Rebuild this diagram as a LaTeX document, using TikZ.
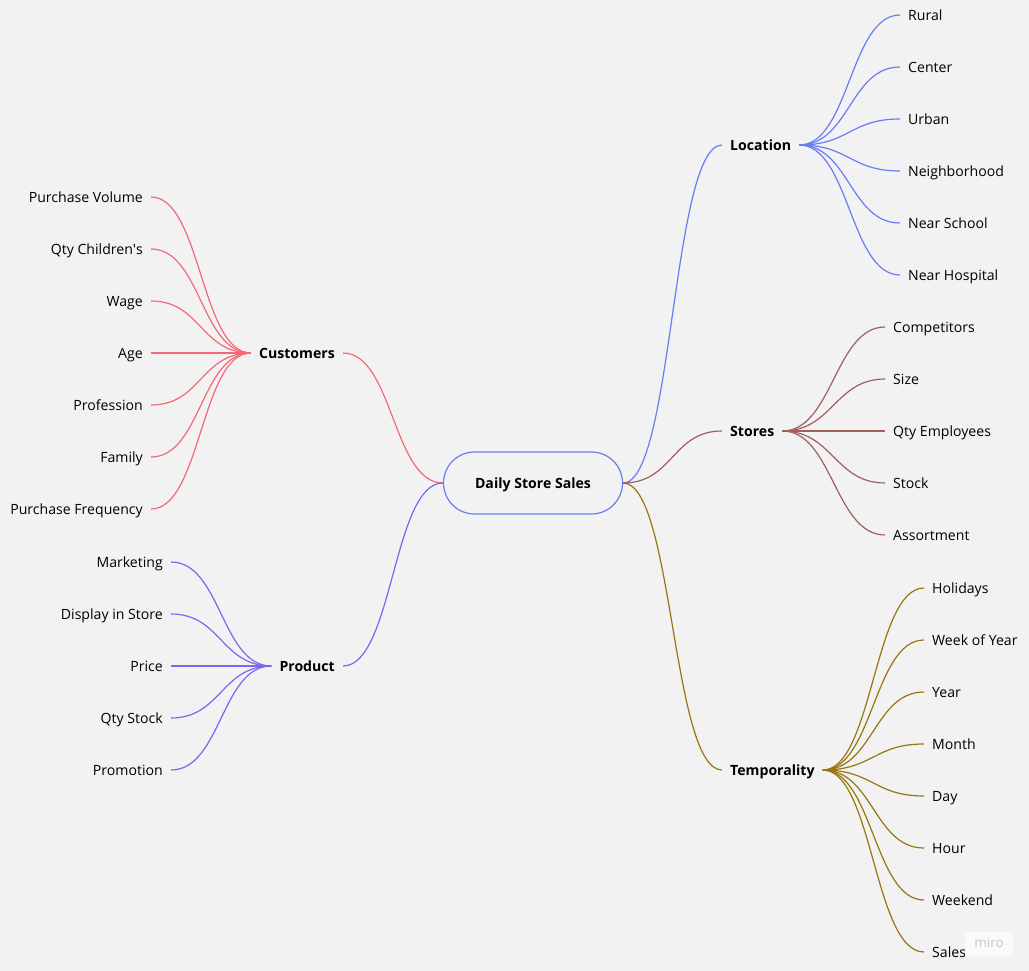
\documentclass[tikz,border=0pt]{standalone}
\usepackage{fontspec}
\setmainfont{Open Sans}
\definecolor{bgc}{RGB}{242,242,242}
\definecolor{locc}{RGB}{106,124,242}
\definecolor{storec}{RGB}{160,96,96}
\definecolor{tempc}{RGB}{152,118,14}
\definecolor{custc}{RGB}{245,104,118}
\definecolor{prodc}{RGB}{120,104,240}
\begin{document}
\begin{tikzpicture}[x=1pt,y=-1pt]
	\tikzstyle{every node}=[inner xsep=8pt, inner ysep=0pt, text height=12.5pt, text depth=1.5pt, font=\fontsize{14.1}{17}\selectfont]
	\tikzstyle{topic}=[font=\fontsize{14.1}{17}\selectfont\bfseries]
	\tikzstyle{rightleaf}=[anchor=west]
	\tikzstyle{leftleaf}=[anchor=east]
	\tikzstyle{branch}=[line width=1.2pt]
	\fill[bgc] (0,0) rectangle (1029,971);
	\useasboundingbox (0,0) rectangle (1029,971);
	% root
	\draw (533,483) node (root) [draw=locc, line width=1.2pt, rounded corners=31pt, minimum width=179pt, minimum height=62pt, topic] {Daily Store Sales};
	% first level
	\draw (722,145) node (loc) [anchor=west, topic] {Location};
	\draw (722,431) node (stores) [anchor=west, topic] {Stores};
	\draw (722,770) node (temp) [anchor=west, topic] {Temporality};
	\draw (343,353) node (cust) [anchor=east, topic] {Customers};
	\draw (343,666) node (prod) [anchor=east, topic] {Product};
	\draw[branch, locc] (root.east) .. controls +(50,0) and +(-50,0) .. (loc.west);
	\draw[branch, storec] (root.east) .. controls +(50,0) and +(-50,0) .. (stores.west);
	\draw[branch, tempc] (root.east) .. controls +(50,0) and +(-50,0) .. (temp.west);
	\draw[branch, custc] (root.west) .. controls +(-50,0) and +(50,0) .. (cust.east);
	\draw[branch, prodc] (root.west) .. controls +(-50,0) and +(50,0) .. (prod.east);
	% location
	\draw (900,15) node (rural) [rightleaf] {Rural};
	\draw (900,67) node (center) [rightleaf] {Center};
	\draw (900,119) node (urban) [rightleaf] {Urban};
	\draw (900,171) node (neigh) [rightleaf] {Neighborhood};
	\draw (900,223) node (school) [rightleaf] {Near School};
	\draw (900,275) node (hosp) [rightleaf] {Near Hospital};
	\draw[branch, locc] (loc.east) .. controls +(50,0) and +(-50,0) .. (rural.west);
	\draw[branch, locc] (loc.east) .. controls +(50,0) and +(-50,0) .. (center.west);
	\draw[branch, locc] (loc.east) .. controls +(50,0) and +(-50,0) .. (urban.west);
	\draw[branch, locc] (loc.east) .. controls +(50,0) and +(-50,0) .. (neigh.west);
	\draw[branch, locc] (loc.east) .. controls +(50,0) and +(-50,0) .. (school.west);
	\draw[branch, locc] (loc.east) .. controls +(50,0) and +(-50,0) .. (hosp.west);
	% stores
	\draw (885,327) node (comp) [rightleaf] {Competitors};
	\draw (885,379) node (size) [rightleaf] {Size};
	\draw (885,431) node (employees) [rightleaf] {Qty Employees};
	\draw (885,483) node (stock) [rightleaf] {Stock};
	\draw (885,535) node (assort) [rightleaf] {Assortment};
	\draw[branch, storec] (stores.east) .. controls +(50,0) and +(-50,0) .. (comp.west);
	\draw[branch, storec] (stores.east) .. controls +(50,0) and +(-50,0) .. (size.west);
	\draw[branch, storec] (stores.east) .. controls +(50,0) and +(-50,0) .. (employees.west);
	\draw[branch, storec] (stores.east) .. controls +(50,0) and +(-50,0) .. (stock.west);
	\draw[branch, storec] (stores.east) .. controls +(50,0) and +(-50,0) .. (assort.west);
	% temporality
	\draw (924,588) node (holidays) [rightleaf] {Holidays};
	\draw (924,640) node (week) [rightleaf] {Week of Year};
	\draw (924,692) node (year) [rightleaf] {Year};
	\draw (924,744) node (month) [rightleaf] {Month};
	\draw (924,796) node (day) [rightleaf] {Day};
	\draw (924,848) node (hour) [rightleaf] {Hour};
	\draw (924,900) node (weekend) [rightleaf] {Weekend};
	\draw (924,952) node (sales) [rightleaf] {Sales};
	\draw[branch, tempc] (temp.east) .. controls +(50,0) and +(-50,0) .. (holidays.west);
	\draw[branch, tempc] (temp.east) .. controls +(50,0) and +(-50,0) .. (week.west);
	\draw[branch, tempc] (temp.east) .. controls +(50,0) and +(-50,0) .. (year.west);
	\draw[branch, tempc] (temp.east) .. controls +(50,0) and +(-50,0) .. (month.west);
	\draw[branch, tempc] (temp.east) .. controls +(50,0) and +(-50,0) .. (day.west);
	\draw[branch, tempc] (temp.east) .. controls +(50,0) and +(-50,0) .. (hour.west);
	\draw[branch, tempc] (temp.east) .. controls +(50,0) and +(-50,0) .. (weekend.west);
	\draw[branch, tempc] (temp.east) .. controls +(50,0) and +(-50,0) .. (sales.west);
	% customers
	\draw (151,197) node (volume) [leftleaf] {Purchase Volume};
	\draw (151,249) node (children) [leftleaf] {Qty Children\textquotesingle s};
	\draw (151,301) node (wage) [leftleaf] {Wage};
	\draw (151,353) node (age) [leftleaf] {Age};
	\draw (151,405) node (prof) [leftleaf] {Profession};
	\draw (151,457) node (family) [leftleaf] {Family};
	\draw (151,509) node (freq) [leftleaf] {Purchase Frequency};
	\draw[branch, custc] (cust.west) .. controls +(-50,0) and +(50,0) .. (volume.east);
	\draw[branch, custc] (cust.west) .. controls +(-50,0) and +(50,0) .. (children.east);
	\draw[branch, custc] (cust.west) .. controls +(-50,0) and +(50,0) .. (wage.east);
	\draw[branch, custc] (cust.west) .. controls +(-50,0) and +(50,0) .. (age.east);
	\draw[branch, custc] (cust.west) .. controls +(-50,0) and +(50,0) .. (prof.east);
	\draw[branch, custc] (cust.west) .. controls +(-50,0) and +(50,0) .. (family.east);
	\draw[branch, custc] (cust.west) .. controls +(-50,0) and +(50,0) .. (freq.east);
	% product
	\draw (171,562) node (marketing) [leftleaf] {Marketing};
	\draw (171,614) node (display) [leftleaf] {Display in Store};
	\draw (171,666) node (price) [leftleaf] {Price};
	\draw (171,718) node (qtystock) [leftleaf] {Qty Stock};
	\draw (171,770) node (promo) [leftleaf] {Promotion};
	\draw[branch, prodc] (prod.west) .. controls +(-50,0) and +(50,0) .. (marketing.east);
	\draw[branch, prodc] (prod.west) .. controls +(-50,0) and +(50,0) .. (display.east);
	\draw[branch, prodc] (prod.west) .. controls +(-50,0) and +(50,0) .. (price.east);
	\draw[branch, prodc] (prod.west) .. controls +(-50,0) and +(50,0) .. (qtystock.east);
	\draw[branch, prodc] (prod.west) .. controls +(-50,0) and +(50,0) .. (promo.east);
	% watermark
	\draw (989,944) node (miro) [fill=white!60!bgc, rounded corners=2pt, text=black!22, inner xsep=0pt, minimum width=48pt, minimum height=25pt, text height=9pt, text depth=2pt, font=\fontsize{13.5}{15}\selectfont] {miro};
\end{tikzpicture}
\end{document}
